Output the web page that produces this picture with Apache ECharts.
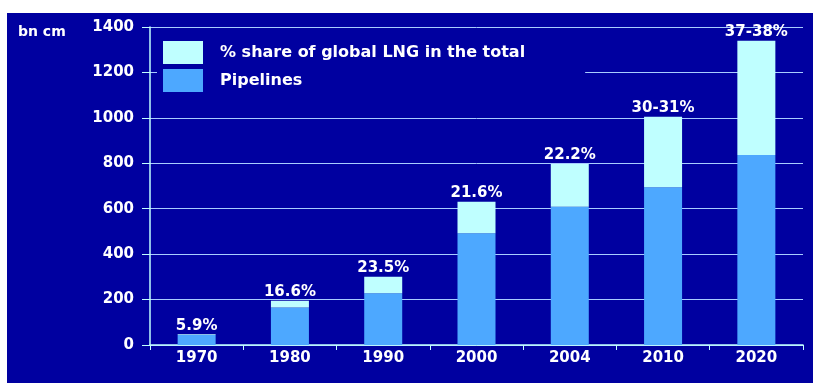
<!DOCTYPE html>
<html>
<head>
<meta charset="utf-8">
<script src="https://cdn.jsdelivr.net/npm/echarts@6/dist/echarts.min.js"></script>
<style>
  html, body { margin: 0; padding: 0; background: #fff; }
  #wrap { position: relative; width: 813px; height: 383px; overflow: hidden; }
  #chart { position: absolute; left: 7px; top: 13px; width: 806px; height: 370px; background: #0000a0; }
</style>
</head>
<body>
<div id="wrap"><div id="chart"></div></div>
<script>
// bn cm
var years = ["1970", "1980", "1990", "2000", "2004", "2010", "2020"];
var pipelines = [44, 165, 228, 492, 609, 694, 837];
var lng = [3, 30, 73, 139, 188, 311, 503];
var shareLabels = ["5.9%", "16.6%", "23.5%", "21.6%", "22.2%", "30-31%", "37-38%"];

var font = '"DejaVu Sans", Verdana, sans-serif';
var chart = echarts.init(document.getElementById("chart"));

chart.setOption({
    animation: false,
    title: {
        text: "bn cm",
        left: 6, top: 7,
        textStyle: { color: "#fff", fontSize: 14, fontWeight: "bold", fontFamily: font }
    },
    legend: {
        orient: "vertical",
        left: 150, top: 22,
        icon: "rect",
        itemWidth: 40, itemHeight: 23,
        itemGap: 5,
        padding: [6, 60, 8, 6],
        backgroundColor: "#0000a0",
        z: 10,
        data: ["% share of global LNG in the total", "Pipelines"],
        textStyle: { color: "#fff", fontSize: 16, fontWeight: "bold", fontFamily: font, padding: [0, 0, 0, 12] }
    },
    grid: { left: 143, right: 10, top: 14, bottom: 38 },
    xAxis: {
        type: "category",
        data: years,
        axisLine: { lineStyle: { color: "#c0ffff", width: 1.5 } },
        axisTick: { show: true, length: 5, lineStyle: { color: "#c0ffff" } },
        axisLabel: { color: "#fff", fontSize: 15, fontWeight: "bold", fontFamily: font, margin: 6 }
    },
    yAxis: {
        type: "value",
        min: 0, max: 1400, interval: 200,
        axisLine: { show: true, lineStyle: { color: "#c0ffff", width: 1.5 } },
        axisTick: { show: true, length: 8, lineStyle: { color: "#c0ffff" } },
        axisLabel: {
            color: "#fff", fontSize: 15, fontWeight: "bold", fontFamily: font, margin: 16,
            formatter: function (v) { return String(v); }
        },
        splitLine: { lineStyle: { color: "#a8ccff", width: 1 } }
    },
    series: [
        {
            name: "Pipelines",
            type: "bar",
            stack: "total",
            barWidth: 38,
            data: pipelines,
            itemStyle: { color: "#4da8ff" }
        },
        {
            name: "% share of global LNG in the total",
            type: "bar",
            stack: "total",
            barWidth: 38,
            data: lng,
            itemStyle: { color: "#bfffff" },
            label: {
                show: true,
                position: "top",
                distance: 1,
                color: "#fff",
                fontSize: 15,
                fontWeight: "bold",
                fontFamily: font,
                formatter: function (p) { return shareLabels[p.dataIndex]; }
            }
        }
    ]
});
</script>
</body>
</html>
